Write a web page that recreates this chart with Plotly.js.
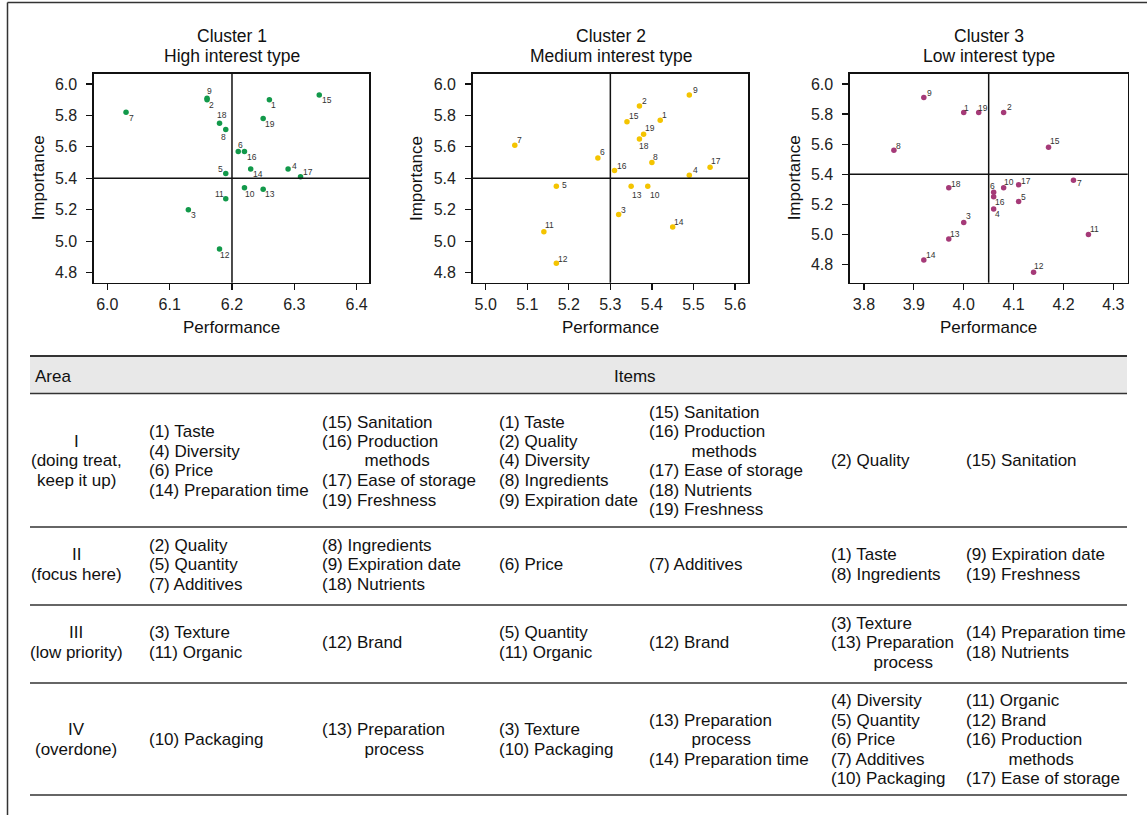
<!DOCTYPE html>
<html>
<head>
<meta charset="utf-8">
<script src="https://cdn.plot.ly/plotly-3.0.1.min.js"></script>
<style>html,body{margin:0;padding:0;background:#fff;}#chart{width:1147px;height:815px;}</style>
</head>
<body>
<div id="chart"></div>
<script>
// ---------------- DATA ----------------
const itemIds = ["1","2","3","4","5","6","7","8","9","10","11","12","13","14","15","16","17","18","19"];

const c1Performance = [6.26,6.16,6.13,6.29,6.19,6.21,6.03,6.19,6.16,6.22,6.19,6.18,6.25,6.23,6.34,6.22,6.31,6.18,6.25];
const c1Importance  = [5.90,5.90,5.20,5.46,5.43,5.57,5.82,5.71,5.91,5.34,5.27,4.95,5.33,5.46,5.93,5.57,5.41,5.75,5.78];

const c2Performance = [5.42,5.37,5.32,5.49,5.17,5.27,5.07,5.40,5.49,5.39,5.14,5.17,5.35,5.45,5.34,5.31,5.54,5.37,5.38];
const c2Importance  = [5.77,5.86,5.17,5.42,5.35,5.53,5.61,5.50,5.93,5.35,5.06,4.86,5.35,5.09,5.76,5.45,5.47,5.65,5.68];

const c3Performance = [4.00,4.08,4.00,4.06,4.11,4.06,4.22,3.86,3.92,4.08,4.25,4.14,3.97,3.92,4.17,4.06,4.11,3.97,4.03];
const c3Importance  = [5.81,5.81,5.08,5.17,5.22,5.28,5.36,5.56,5.91,5.31,5.00,4.75,4.97,4.83,5.58,5.25,5.33,5.31,5.81];

const clusterNames = ["Cluster 1","Cluster 2","Cluster 3"];
const clusterTypes = ["High interest type","Medium interest type","Low interest type"];
const perfMeans = [6.2, 5.3, 4.05];
const impMean = 5.4;
const xTicks = [[6.0,6.1,6.2,6.3,6.4],[5.0,5.1,5.2,5.3,5.4,5.5,5.6],[3.8,3.9,4.0,4.1,4.2,4.3]];
const yTicks = [4.8,5.0,5.2,5.4,5.6,5.8,6.0];

const headerArea = "Area";
const headerItems = "Items";
const areaLabels = [["I","(doing treat,","keep it up)"],["II","(focus here)"],["III","(low priority)"],["IV","(overdone)"]];
const IND = "\u00a0".repeat(9);
const rowI   = [["(1) Taste","(4) Diversity","(6) Price","(14) Preparation time"],
                ["(15) Sanitation","(16) Production",IND+"methods","(17) Ease of storage","(19) Freshness"],
                ["(1) Taste","(2) Quality","(4) Diversity","(8) Ingredients","(9) Expiration date"],
                ["(15) Sanitation","(16) Production",IND+"methods","(17) Ease of storage","(18) Nutrients","(19) Freshness"],
                ["(2) Quality"],
                ["(15) Sanitation"]];
const rowII  = [["(2) Quality","(5) Quantity","(7) Additives"],
                ["(8) Ingredients","(9) Expiration date","(18) Nutrients"],
                ["(6) Price"],
                ["(7) Additives"],
                ["(1) Taste","(8) Ingredients"],
                ["(9) Expiration date","(19) Freshness"]];
const rowIII = [["(3) Texture","(11) Organic"],
                ["(12) Brand"],
                ["(5) Quantity","(11) Organic"],
                ["(12) Brand"],
                ["(3) Texture","(13) Preparation",IND+"process"],
                ["(14) Preparation time","(18) Nutrients"]];
const rowIV  = [["(10) Packaging"],
                ["(13) Preparation",IND+"process"],
                ["(3) Texture","(10) Packaging"],
                ["(13) Preparation",IND+"process","(14) Preparation time"],
                ["(4) Diversity","(5) Quantity","(6) Price","(7) Additives","(10) Packaging"],
                ["(11) Organic","(12) Brand","(16) Production",IND+"methods","(17) Ease of storage"]];
const tableRows = [rowI,rowII,rowIII,rowIV];

// ---------------- STYLE / LAYOUT ----------------
const W = 1147, H = 815;
const px = x => x / W;
const py = y => 1 - y / H;
const FONT = "Liberation Sans, Arial, Helvetica, sans-serif";
const colors = ["#12994a","#f4c400","#a53a78"];
// label offsets (pixels, dx right, dy down) from each marker
const labelOffsets = [
  [[4.3,5],[4.3,5.7],[5,5.7],[6,-2.7],[-5.3,-4.7],[2,-7],[5.3,6],[-2.7,7],[2,-7.3],[5.7,6.3],[-6.3,-4.3],[5,6.3],[7,5],[7.3,5],[7.3,5],[7.3,5],[7,-5],[2.7,-8.3],[6.7,5.3]],
  [[4,-5],[5,-5],[5,-4.3],[5.7,-5],[7.7,-0.7],[4.3,-6.3],[4.3,-5],[4,-5.7],[6,-5],[7.7,9],[6,-6.3],[6.3,-4],[5.7,9],[6.3,-5.3],[6.7,-5.7],[7.3,-4.3],[6,-6.7],[4.7,7.3],[6,-6.7]],
  [[3,-5],[5.7,-5.7],[4.3,-6.7],[4,5],[5.3,-4.7],[-0.7,-6],[5.7,3],[4.7,-4],[5.3,-4.7],[5,-6.3],[6,-5.3],[5.7,-6],[6.7,-4.7],[6.7,-5.3],[6.7,-5.7],[6,5],[7,-4.3],[7.3,-4.3],[4,-5]]
];
const panelX = [[94,369.3],[472.7,748.3],[850,1127.7]];
const panelY = [74, 282.7];
const xRanges = [[5.9786,6.4203],[4.9687,5.632],[3.772,4.3287]];
const yRanges = [[4.736,6.0636],[4.736,6.0636],[4.680,6.066]];
const perfs = [c1Performance,c2Performance,c3Performance];
const imps  = [c1Importance,c2Importance,c3Importance];

const traces = [];
const layout = {
  width: W, height: H,
  margin: {l:0,r:0,t:0,b:0},
  paper_bgcolor: "#fff", plot_bgcolor: "#fff",
  showlegend: false,
  font: {family: FONT, color: "#111"},
  shapes: [], annotations: []
};

for (let i = 0; i < 3; i++) {
  const sfx = i === 0 ? "" : String(i+1);
  traces.push({
    type: "scatter", mode: "markers",
    x: perfs[i], y: imps[i], text: itemIds,
    marker: {color: colors[i], size: 5.5},
    xaxis: "x" + sfx, yaxis: "y" + sfx,
    cliponaxis: false, hoverinfo: "skip"
  });
  perfs[i].forEach((xv, k) => {
    layout.annotations.push({
      xref: "x" + sfx, yref: "y" + sfx, x: xv, y: imps[i][k], text: itemIds[k],
      showarrow: false, xanchor: "center", yanchor: "middle",
      xshift: labelOffsets[i][k][0], yshift: -labelOffsets[i][k][1],
      font: {size: 8.5, color: "#333", family: FONT}
    });
  });
  const axCommon = {
    showgrid: false, zeroline: false, showline: true, mirror: true,
    linecolor: "#111", linewidth: 1.6, ticks: "outside", ticklen: 6,
    tickwidth: 1.2, tickcolor: "#111", tickfont: {size: 16, color: "#222", family: FONT},
    tickformat: ".1f", fixedrange: true
  };
  layout["xaxis" + sfx] = Object.assign({}, axCommon, {
    domain: [px(panelX[i][0]), px(panelX[i][1])],
    range: xRanges[i], tickvals: xTicks[i], anchor: "y" + sfx
  });
  layout["yaxis" + sfx] = Object.assign({}, axCommon, {
    domain: [py(panelY[1]), py(panelY[0])],
    range: yRanges[i], tickvals: yTicks, anchor: "x" + sfx,
    ticklabelstandoff: 6
  });
  // quadrant lines
  layout.shapes.push({type:"line", xref:"x"+sfx, yref:"y"+sfx+" domain", x0:perfMeans[i], x1:perfMeans[i], y0:0, y1:1, line:{color:"#111", width:1.5}});
  layout.shapes.push({type:"line", xref:"x"+sfx+" domain", yref:"y"+sfx, x0:0, x1:1, y0:impMean, y1:impMean, line:{color:"#111", width:1.5}});

  const cx = (panelX[i][0] + panelX[i][1]) / 2;
  layout.annotations.push({xref:"paper", yref:"paper", x:px(cx), y:py(36), text:clusterNames[i], showarrow:false, xanchor:"center", yanchor:"middle", font:{size:17.5, color:"#111"}});
  layout.annotations.push({xref:"paper", yref:"paper", x:px(cx), y:py(56), text:clusterTypes[i], showarrow:false, xanchor:"center", yanchor:"middle", font:{size:17.5, color:"#111"}});
  layout.annotations.push({xref:"paper", yref:"paper", x:px(cx), y:py(327), text:"Performance", showarrow:false, xanchor:"center", yanchor:"middle", font:{size:17, color:"#111"}});
  layout.annotations.push({xref:"paper", yref:"paper", x:px(panelX[i][0] - 56), y:py((panelY[0]+panelY[1])/2), text:"Importance", textangle:-90, showarrow:false, xanchor:"center", yanchor:"middle", font:{size:17, color:"#111"}});
}

// figure border (top & left)
layout.shapes.push({type:"line", xref:"paper", yref:"paper", x0:px(7.5), x1:1, y0:py(2.5), y1:py(2.5), line:{color:"#333", width:1.5}});
layout.shapes.push({type:"line", xref:"paper", yref:"paper", x0:px(7.5), x1:px(7.5), y0:py(2.5), y1:0, line:{color:"#333", width:1.5}});

// table
const tL = 30, tR = 1127;
layout.shapes.push({type:"rect", xref:"paper", yref:"paper", x0:px(tL), x1:px(tR), y0:py(393.5), y1:py(356), fillcolor:"#e8e8e8", line:{width:0}, layer:"below"});
const hLines = [[356,2.2],[393.5,1.5],[527,1.5],[605,1.5],[683,1.5],[795,1.5]];
hLines.forEach(([y,w]) => layout.shapes.push({type:"line", xref:"paper", yref:"paper", x0:px(tL), x1:px(tR), y0:py(y), y1:py(y), line:{color:"#333", width:w}}));

const TF = {size: 17, color: "#111", family: FONT};
layout.annotations.push({xref:"paper", yref:"paper", x:px(33), y:py(376), text:headerArea, showarrow:false, xanchor:"left", yanchor:"middle", font:TF});
layout.annotations.push({xref:"paper", yref:"paper", x:px(635), y:py(376), text:headerItems, showarrow:false, xanchor:"center", yanchor:"middle", font:TF});

const rowCenters = [461, 564.5, 642.5, 739.5];
const colLefts = [147, 320, 497, 647, 829, 964];
const areaCenter = 76;
const LS = 19.5;
function addLines(lines, x, yc, anchor) {
  const n = lines.length;
  lines.forEach((t, k) => {
    const y = yc + (k - (n - 1) / 2) * LS;
    layout.annotations.push({xref:"paper", yref:"paper", x:px(x), y:py(y), text:t, showarrow:false, xanchor:anchor, yanchor:"middle", font:TF});
  });
}
tableRows.forEach((row, r) => {
  addLines(areaLabels[r], areaCenter, rowCenters[r], "center");
  row.forEach((cell, c) => addLines(cell, colLefts[c], rowCenters[r], "left"));
});

Plotly.newPlot("chart", traces, layout, {staticPlot: true, displayModeBar: false});
</script>
</body>
</html>
